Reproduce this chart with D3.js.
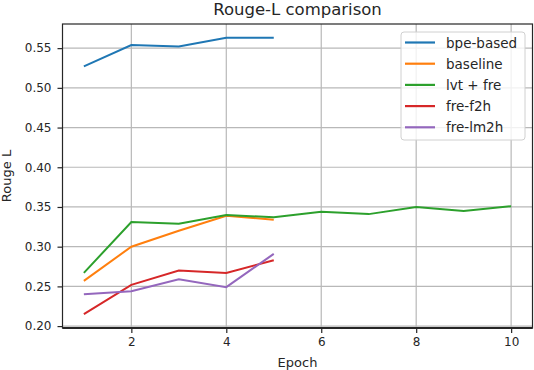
<!DOCTYPE html>
<html>
<head>
<meta charset="utf-8">
<script src="https://cdn.jsdelivr.net/npm/d3@7"></script>
<style>
  body { margin: 0; background: #fff; }
  text { font-family: "DejaVu Sans", sans-serif; fill: #262626; }
</style>
</head>
<body>
<svg></svg>
<script>
var epochs = [1, 2, 3, 4, 5, 6, 7, 8, 9, 10];
var bpeBased = [0.527, 0.554, 0.552, 0.563, 0.563];
var baseline = [0.257, 0.300, 0.320, 0.339, 0.334];
var lvtFre = [0.267, 0.331, 0.329, 0.340, 0.337, 0.344, 0.341, 0.350, 0.345, 0.351];
var freF2h = [0.215, 0.252, 0.270, 0.267, 0.283];
var freLm2h = [0.240, 0.244, 0.259, 0.249, 0.291];
var seriesNames = ["bpe-based", "baseline", "lvt + fre", "fre-f2h", "fre-lm2h"];
var xTicks = [2, 4, 6, 8, 10];
var yTicks = [0.20, 0.25, 0.30, 0.35, 0.40, 0.45, 0.50, 0.55];

var viewWidth = 534;
var viewHeight = 370;
var margin = {top: 24, right: 1.5, bottom: 42, left: 62.5};
var width = viewWidth - margin.left - margin.right;
var height = viewHeight - margin.top - margin.bottom;

var svg = d3.select("svg")
    .attr("width", viewWidth)
    .attr("height", viewHeight)
    .append("g")
    .attr("transform", "translate(" + margin.left + "," + margin.top + ")");

var allSeries = [bpeBased, baseline, lvtFre, freF2h, freLm2h];
var color = d3.scaleOrdinal()
    .domain(seriesNames)
    .range(["#1f77b4", "#ff7f0e", "#2ca02c", "#d62728", "#9467bd"]);

// matplotlib style 5% padding on both axes
var xMin = 1, xMax = 10;
var allVals = d3.merge(allSeries);
var yMin = d3.min(allVals), yMax = d3.max(allVals);
var xPad = (xMax - xMin) * 0.05, yPad = (yMax - yMin) * 0.05;

var x = d3.scaleLinear()
    .domain([xMin - xPad, xMax + xPad])
    .range([0, width]);
var y = d3.scaleLinear()
    .domain([yMin - yPad, yMax + yPad])
    .range([height, 0]);

// grid
svg.append("g")
    .selectAll("line")
    .data(xTicks)
    .enter()
    .append("line")
    .attr("x1", function(d) { return x(d); })
    .attr("x2", function(d) { return x(d); })
    .attr("y1", 0)
    .attr("y2", height)
    .style("stroke", "#b8b8b8")
    .style("stroke-width", 1.2);

svg.append("g")
    .selectAll("line")
    .data(yTicks)
    .enter()
    .append("line")
    .attr("x1", 0)
    .attr("x2", width)
    .attr("y1", function(d) { return y(d); })
    .attr("y2", function(d) { return y(d); })
    .style("stroke", "#b8b8b8")
    .style("stroke-width", 1.2);

// axes
var xAxis = svg.append("g")
    .attr("transform", "translate(0," + height + ")")
    .call(d3.axisBottom(x).tickValues(xTicks).tickSize(5).tickPadding(4).tickFormat(d3.format("d")));
var yAxis = svg.append("g")
    .call(d3.axisLeft(y).tickValues(yTicks).tickSize(5).tickPadding(6).tickFormat(d3.format(".2f")));

[xAxis, yAxis].forEach(function(a) {
    a.select(".domain").remove();
    a.selectAll("line").style("stroke", "#262626").style("stroke-width", 1.2);
    a.selectAll("text").style("font-size", "12px").style("fill", "#262626");
});

// frame
svg.append("rect")
    .attr("x", 0)
    .attr("y", 0)
    .attr("width", width)
    .attr("height", height)
    .style("fill", "none")
    .style("stroke", "#262626")
    .style("stroke-width", 1.2);
svg.append("line")
    .attr("x1", 0)
    .attr("x2", width)
    .attr("y1", height)
    .attr("y2", height)
    .style("stroke", "#262626")
    .style("stroke-width", 2.2);

// lines
var line = d3.line()
    .x(function(d, i) { return x(epochs[i]); })
    .y(function(d) { return y(d); });

svg.selectAll("mylines")
    .data(allSeries)
    .enter()
    .append("path")
    .attr("d", line)
    .style("fill", "none")
    .style("stroke", function(d, i) { return color(seriesNames[i]); })
    .style("stroke-width", 2);

// title and labels
svg.append("text")
    .attr("x", width / 2)
    .attr("y", -9)
    .style("text-anchor", "middle")
    .style("font-size", "16.5px")
    .text("Rouge-L comparison");

svg.append("text")
    .attr("x", width / 2)
    .attr("y", height + 39)
    .style("text-anchor", "middle")
    .style("font-size", "13px")
    .text("Epoch");

svg.append("text")
    .attr("transform", "rotate(-90)")
    .attr("x", 0 - (height / 2))
    .attr("y", 0 - margin.left + 11)
    .style("text-anchor", "middle")
    .style("font-size", "13px")
    .text("Rouge L");

// legend
var legend = svg.append("g")
    .attr("transform", "translate(" + (width - 131.5) + ",8)");
legend.append("rect")
    .attr("width", 124)
    .attr("height", 108)
    .attr("rx", 3)
    .style("fill", "#fff")
    .style("fill-opacity", 0.8)
    .style("stroke", "#d0d0d0")
    .style("stroke-width", 1);

var rowStep = 21.2;
legend.selectAll("mykeys")
    .data(seriesNames)
    .enter()
    .append("line")
    .attr("x1", 4)
    .attr("x2", 34)
    .attr("y1", function(d, i) { return 10.5 + i * rowStep; })
    .attr("y2", function(d, i) { return 10.5 + i * rowStep; })
    .style("stroke", function(d) { return color(d); })
    .style("stroke-width", 2.2);

legend.selectAll("mylabels")
    .data(seriesNames)
    .enter()
    .append("text")
    .attr("x", 45)
    .attr("y", function(d, i) { return 10.5 + i * rowStep + 5; })
    .style("font-size", "13.5px")
    .text(function(d) { return d; });
</script>
</body>
</html>
